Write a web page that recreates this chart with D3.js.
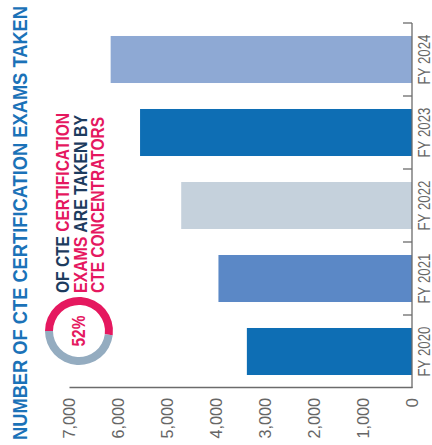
<!DOCTYPE html>
<html>
<head>
<meta charset="utf-8">
<script src="https://cdn.jsdelivr.net/npm/d3@7/dist/d3.min.js"></script>
<style>
  html, body { margin: 0; padding: 0; background: #fff; }
  svg { display: block; }
  .lbl { font-family: "Liberation Sans", Arial, sans-serif; }
</style>
</head>
<body>
<script>
// Certification exams taken per fiscal year
const categories = ["FY 2020", "FY 2021", "FY 2022", "FY 2023", "FY 2024"];
const examsTaken = [3370, 3950, 4710, 5550, 6150];
const barColors = ["#0e6eb4", "#5b88c6", "#c5d1dc", "#0e6eb4", "#8ea9d4"];
const valueTicks = [0, 1000, 2000, 3000, 4000, 5000, 6000, 7000];

// Share of exams taken by CTE concentrators
const concentratorShare = [52, 48];
const shareColors = ["#e5185f", "#94acc0"];

const W = 432, H = 445;
const svg = d3.select("body").append("svg").attr("width", W).attr("height", H);

// The whole chart is laid out as a column chart and turned a quarter counter-clockwise
const g = svg.append("g").attr("transform", `translate(0,${H}) rotate(-90)`);

const axisColor = "#6b6b6b";
const labelColor = "#666";

const x = d3.scaleBand().domain(categories).range([57, 422])
  .paddingInner(0.356).paddingOuter(0.178);
const y = d3.scaleLinear().domain([0, 7000]).range([412, 69]);

// Bars
g.selectAll("rect.bar").data(categories).join("rect")
  .attr("class", "bar")
  .attr("x", d => x(d))
  .attr("width", x.bandwidth())
  .attr("y", (d, i) => y(examsTaken[i]))
  .attr("height", (d, i) => y(0) - y(examsTaken[i]))
  .attr("fill", (d, i) => barColors[i]);

// Value axis
const yAxis = g.append("g").attr("transform", `translate(${x.range()[0]},0)`)
  .call(d3.axisLeft(y).tickValues(valueTicks).tickFormat(d3.format(",")).tickSize(0).tickPadding(10));
yAxis.select(".domain").attr("stroke", axisColor).attr("stroke-width", 1.3);
yAxis.selectAll("text")
  .attr("class", "lbl")
  .attr("font-size", 17)
  .attr("fill", labelColor)
  .each(function () {
    const n = this.textContent.length;
    if (n > 1) d3.select(this).attr("textLength", n * 8.1).attr("lengthAdjust", "spacingAndGlyphs");
  });

// Category axis with ticks between bands, pointing into the plot
const xAxis = g.append("g").attr("transform", `translate(0,${y(0)})`);
xAxis.append("line")
  .attr("x1", x.range()[0]).attr("x2", x.range()[1])
  .attr("stroke", axisColor).attr("stroke-width", 1.3);
const step = x.step();
const bounds = categories.map(c => x(c) - step * x.paddingInner() / 2).concat([x.range()[1]]);
xAxis.selectAll("line.tick").data(bounds.slice(1)).join("line")
  .attr("class", "tick")
  .attr("x1", d => d).attr("x2", d => d)
  .attr("y1", 0).attr("y2", -9)
  .attr("stroke", axisColor).attr("stroke-width", 1.3);
xAxis.selectAll("text").data(categories).join("text")
  .attr("class", "lbl")
  .attr("x", d => x(d) + x.bandwidth() / 2 - 25)
  .attr("y", 18)
  .attr("font-size", 16.5)
  .attr("fill", labelColor)
  .attr("textLength", 50).attr("lengthAdjust", "spacingAndGlyphs")
  .text(d => d);

// Title
g.append("text").attr("class", "lbl")
  .attr("x", 5).attr("y", 27)
  .attr("font-size", 19.5).attr("font-weight", "bold")
  .attr("fill", "#1b72b8")
  .attr("textLength", 434).attr("lengthAdjust", "spacingAndGlyphs")
  .text("NUMBER OF CTE CERTIFICATION EXAMS TAKEN");

// Donut
const cx = 114, cy = 79;
const pie = d3.pie().sort(null).startAngle(0).endAngle(2 * Math.PI);
const arc = d3.arc().innerRadius(26).outerRadius(34);
const donut = g.append("g").attr("transform", `translate(${cx},${cy})`);
donut.selectAll("path").data(pie(concentratorShare)).join("path")
  .attr("d", arc).attr("fill", (d, i) => shareColors[i]);
donut.append("text").attr("class", "lbl")
  .attr("x", -15.5).attr("dy", "0.36em")
  .attr("font-size", 18).attr("font-weight", "bold")
  .attr("fill", shareColors[0])
  .attr("textLength", 31).attr("lengthAdjust", "spacingAndGlyphs")
  .text(concentratorShare[0] + "%");

// Caption beside the donut
const navy = "#1d3b5e", pink = shareColors[0];
const caption = [
  [["OF CTE ", navy], ["CERTIFICATION", pink]],
  [["EXAMS ", pink], ["ARE TAKEN BY", navy]],
  [["CTE CONCENTRATORS", pink]]
];
const captionBaselines = [69, 86.5, 104];
const captionLengths = [180, 178, 176];
caption.forEach((parts, i) => {
  const t = g.append("text").attr("class", "lbl")
    .attr("x", 152).attr("y", captionBaselines[i])
    .attr("font-size", 18.5).attr("font-weight", "bold")
    .attr("textLength", captionLengths[i]).attr("lengthAdjust", "spacingAndGlyphs");
  parts.forEach(([s, c]) => t.append("tspan").attr("fill", c).text(s));
});
</script>
</body>
</html>
